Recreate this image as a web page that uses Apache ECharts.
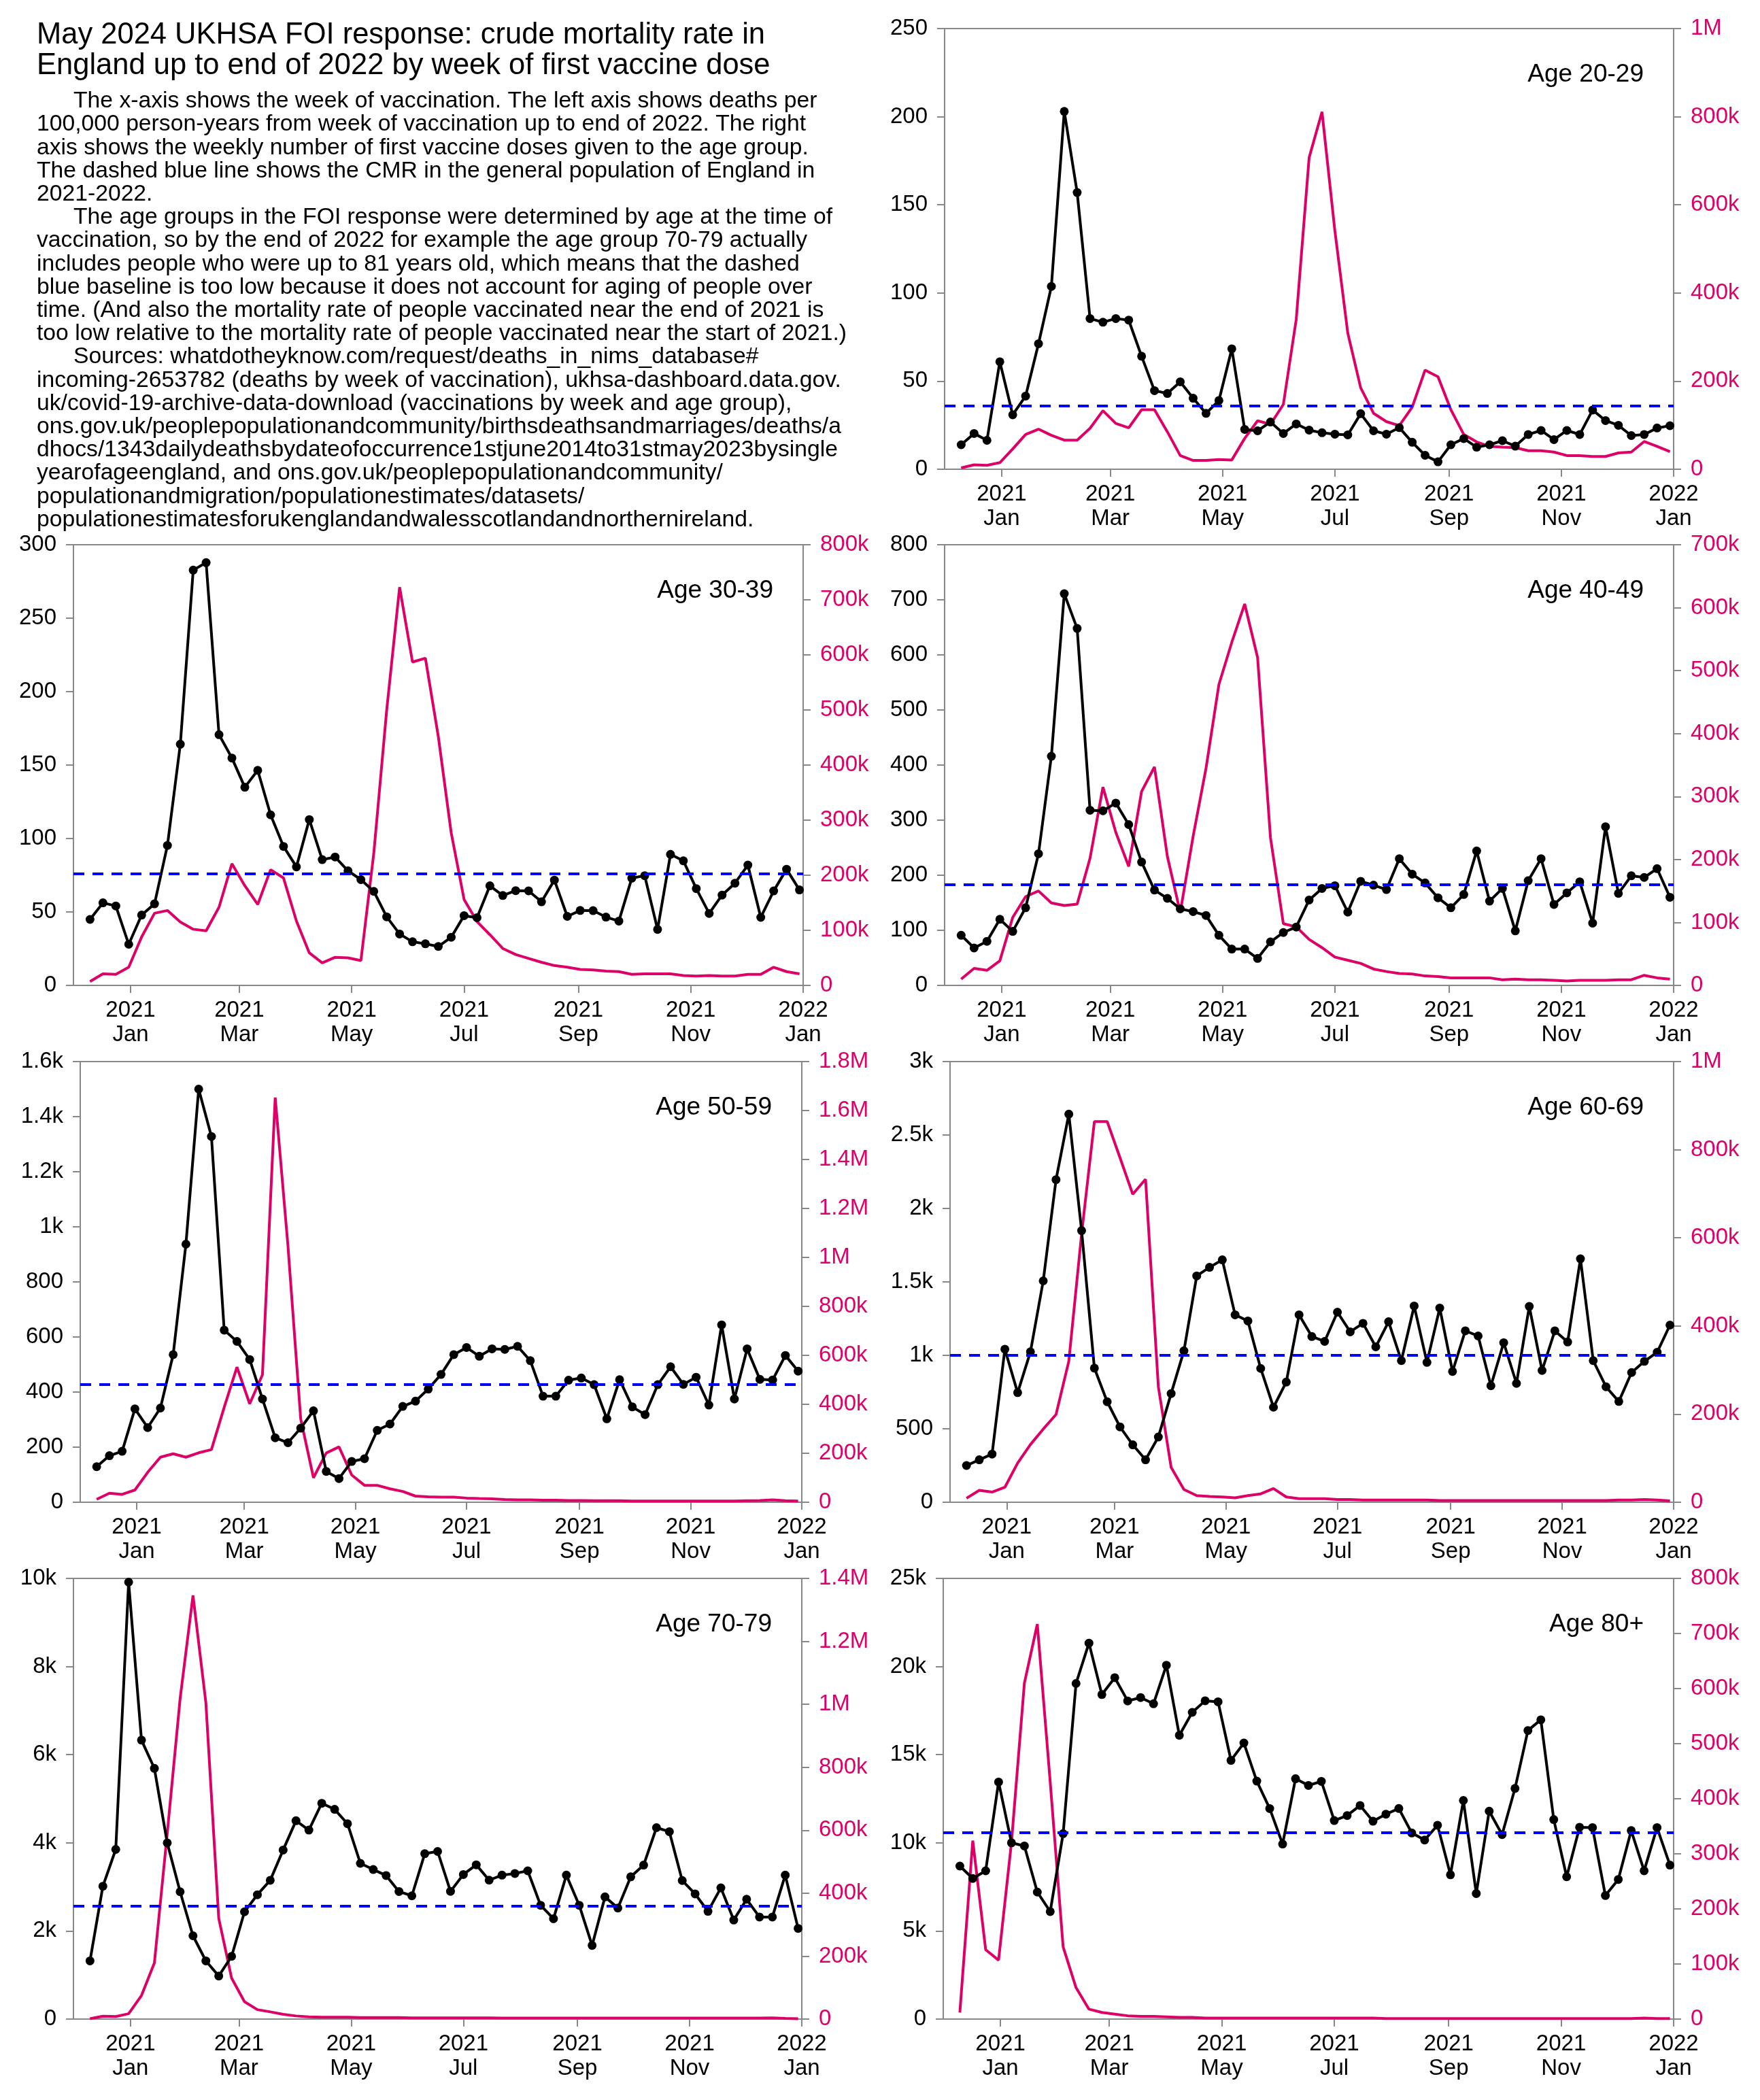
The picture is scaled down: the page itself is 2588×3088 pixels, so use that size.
<!DOCTYPE html>
<html><head><meta charset="utf-8">
<script src="https://cdn.jsdelivr.net/npm/echarts@6/dist/echarts.min.js"></script>
<style>html,body{margin:0;padding:0;background:#fff}#c{width:2588px;height:3088px}</style>
</head><body><div id="c"></div>
<script>
// ---------- DATA ----------
const weeks = ['2020-12-10','2020-12-17','2020-12-24','2020-12-31',
'2021-01-07','2021-01-14','2021-01-21','2021-01-28','2021-02-04','2021-02-11','2021-02-18','2021-02-25',
'2021-03-04','2021-03-11','2021-03-18','2021-03-25','2021-04-01','2021-04-08','2021-04-15','2021-04-22','2021-04-29',
'2021-05-06','2021-05-13','2021-05-20','2021-05-27','2021-06-03','2021-06-10','2021-06-17','2021-06-24',
'2021-07-01','2021-07-08','2021-07-15','2021-07-22','2021-07-29','2021-08-05','2021-08-12','2021-08-19','2021-08-26',
'2021-09-02','2021-09-09','2021-09-16','2021-09-23','2021-09-30','2021-10-07','2021-10-14','2021-10-21','2021-10-28',
'2021-11-04','2021-11-11','2021-11-18','2021-11-25','2021-12-02','2021-12-09','2021-12-16','2021-12-23','2021-12-30'];

const tickDates = ['2021-01-01','2021-03-01','2021-05-01','2021-07-01','2021-09-01','2021-11-01','2022-01-01'];
const monthNames = ['Jan','Feb','Mar','Apr','May','Jun','Jul','Aug','Sep','Oct','Nov','Dec'];
const xRange = ['2020-12-01','2022-01-01'];

const ageLabels = ['Age 20-29','Age 30-39','Age 40-49','Age 50-59','Age 60-69','Age 70-79','Age 80+'];

// deaths per 100,000 person-years by week of first dose
const cmr2029 = [13.9,20.3,16.4,61,30.9,41.5,71.2,103.7,203,157,85.5,83.4,85.5,84.6,64.1,44.6,43,49.6,40.3,31.7,39,68.3,22.6,21.8,26.8,20.3,25.7,22.2,20.7,19.9,19.5,31.5,21.8,19.9,23.6,15.3,7.9,4.2,13.9,17.4,12.5,13.9,16.2,13.1,19.7,22,16.8,22,19.7,33.6,27.6,24.9,19.1,19.7,23.4,24.7];
const cmr3039 = [44.9,56.2,54.1,28,47.9,55.5,95.3,164.2,282.7,287.8,170.7,154.8,134.9,146.4,116.1,94.6,80.7,112.9,85.6,87.4,78,72,64,46.7,35,29.7,28.3,26.5,32.8,47.5,46.1,67.8,61.2,64.5,64.4,56.9,71.7,47,51,50.9,46.5,43.8,73,74.7,38.1,89.2,84.8,65.9,49,61.5,69.6,81.9,46.3,64.3,79.1,65];
const cmr4049 = [91,68,80,120,98,141,239,416,711,648,318,317,331,292,224,173,158,139,134,127,91,66,66,49,79,96,106,155,176,181,133,189,182,174,230,202,186,159,141,165,244,153,176,99,190,230,147,168,188,113,288,167,199,196,212,160];
const cmr5059 = [129,169,185,339,271,342,536,937,1500,1328,625,584,518,375,234,216,269,332,112,86,148,158,261,284,348,367,411,464,536,562,530,557,555,566,514,385,385,443,451,427,303,445,346,318,427,492,428,454,353,644,375,557,446,444,533,476];
const cmr6069 = [250,289,328,1042,746,1024,1507,2196,2642,1849,913,684,513,391,289,444,740,1031,1541,1599,1650,1276,1234,911,647,818,1276,1128,1095,1294,1160,1218,1058,1229,964,1336,952,1322,890,1167,1132,793,1086,809,1333,897,1167,1091,1657,964,786,686,883,959,1021,1206];
const cmr7079 = [1320,3015,3850,9915,6330,5690,3998,2890,1890,1320,978,1424,2434,2822,3150,3836,4501,4289,4897,4760,4433,3534,3394,3258,2894,2797,3753,3804,2898,3281,3501,3152,3266,3304,3364,2582,2278,3266,2582,1671,2772,2521,3228,3494,4344,4253,3144,2840,2445,2977,2248,2719,2316,2316,3266,2058];
const cmr80 = [8680,7977,8410,13450,10000,9820,7205,6100,10520,19040,21330,18410,19370,18050,18240,17890,20075,16100,17400,18060,18000,14678,15660,13500,11945,9930,13637,13257,13485,11263,11548,12118,11225,11624,11947,10560,10161,10997,8186,12403,7122,11795,10465,13086,16372,16980,11320,8072,10883,10864,7008,7920,10693,8414,10864,8737];

// weekly first doses, in thousands
const dosesK2029 = [3,10,9,15,46,79,91,77,66,66,93,133,104,94,135,135,85,31,20,20,22,21,70,110,102,147,340,707,811,541,309,185,127,108,99,141,225,210,135,79,62,52,50,49,42,42,39,31,31,29,29,37,39,63,52,40];
const dosesK3039 = [7,21,20,33,88,131,136,115,102,99,142,221,181,147,210,195,117,59,41,51,50,45,240,500,723,587,594,452,277,156,116,92,67,56,49,42,36,33,29,28,26,25,20,21,21,21,18,17,18,17,17,20,20,33,25,21];
const dosesK4049 = [10,27,24,39,108,141,150,131,127,129,202,315,243,189,308,347,205,116,237,345,478,545,606,521,235,98,93,73,60,45,40,35,26,22,19,18,15,14,12,12,12,12,9,10,9,9,8,7,8,8,8,9,9,16,12,10];
const dosesK5059 = [12,37,32,50,122,184,198,184,202,215,388,552,402,521,1653,1047,340,100,201,226,111,69,69,55,44,25,22,21,21,17,15,14,11,10,10,8,8,7,7,6,6,6,5,5,5,5,5,5,5,5,5,6,7,10,6,5];
const dosesK6069 = [9,27,23,34,89,131,166,199,320,609,864,864,782,699,733,262,79,29,15,13,12,10,15,19,31,12,8,8,8,6,6,5,5,5,5,5,5,4,4,4,4,4,4,4,4,4,4,4,4,4,4,5,5,6,5,3];
const dosesK7079 = [1,9,8,17,75,178,590,1018,1346,1005,320,130,55,30,23,15,10,7,6,6,6,5,5,5,5,4,4,4,4,4,4,4,3,3,3,3,3,3,3,3,3,3,3,3,3,3,3,3,3,3,3,3,3,4,2,1];
const dosesK80 = [12,324,126,107,321,610,717,430,131,57,18,12,9,6,5,5,4,3,3,2,2,2,2,2,2,2,2,2,2,2,2,2,2,1,1,1,1,1,1,1,1,1,1,1,1,1,1,1,1,1,1,1,1,2,1,1];

// CMR of general population of England 2021-2022
const baselines = [36.1, 75.9, 183, 428, 1003, 2559, 10598];

// axis scales
const leftMax = [250, 300, 800, 1600, 3000, 10000, 25000];
const leftInterval = [50, 50, 100, 200, 500, 2000, 5000];
const rightMaxK = [1000, 800, 700, 1800, 1000, 1400, 800];
const rightIntervalK = [200, 100, 100, 200, 200, 200, 100];

const cmrSeries = [cmr2029, cmr3039, cmr4049, cmr5059, cmr6069, cmr7079, cmr80];
const doseSeries = [dosesK2029, dosesK3039, dosesK4049, dosesK5059, dosesK6069, dosesK7079, dosesK80];

// ---------- LAYOUT ----------
const gridRects = [
  {left:1389, top:42,   width:1072, height:648},
  {left:108,  top:801,  width:1073, height:648},
  {left:1389, top:801,  width:1072, height:648},
  {left:118,  top:1561, width:1061, height:648},
  {left:1397, top:1561, width:1064, height:648},
  {left:108,  top:2321, width:1071, height:648},
  {left:1387, top:2321, width:1074, height:648}
];

const FONT = '"Liberation Sans", Arial, Helvetica, sans-serif';
const PINK = '#dd0066';
const GRAY = '#888888';

function ts(s){ const p = s.split('-').map(Number); return new Date(p[0], p[1]-1, p[2]).getTime(); }
const tickTs = tickDates.map(ts);

function leftFmt(v){ return v >= 1000 ? (v/1000) + 'k' : String(v); }
function rightFmt(v){ if (v === 0) return '0'; return v >= 1000 ? (v/1000) + 'M' : v + 'k'; }
function xFmt(v){ const d = new Date(v); return d.getFullYear() + '\n' + monthNames[d.getMonth()]; }

const grids = [], xAxes = [], yAxes = [], series = [], graphics = [];

gridRects.forEach((g, i) => {
  grids.push(Object.assign({}, g, {show:true, borderColor:GRAY, borderWidth:2, backgroundColor:'transparent', containLabel:false, outerBoundsMode:'none'}));
  xAxes.push({
    type:'value', gridIndex:i, min:ts(xRange[0]), max:ts(xRange[1]),
    axisLine:{show:false, onZero:false},
    splitLine:{show:false},
    axisTick:{show:true, inside:false, length:11, customValues:tickTs, lineStyle:{color:GRAY, width:2}},
    axisLabel:{show:true, customValues:tickTs, formatter:xFmt, color:'#000', fontSize:33, fontFamily:FONT, lineHeight:36, margin:19, showMinLabel:true, showMaxLabel:true, hideOverlap:false}
  });
  yAxes.push({
    type:'value', gridIndex:i, position:'left', min:0, max:leftMax[i], interval:leftInterval[i],
    axisLine:{show:false}, splitLine:{show:false},
    axisTick:{show:true, inside:false, length:11, lineStyle:{color:GRAY, width:2}},
    axisLabel:{formatter:leftFmt, color:'#000', fontSize:33, fontFamily:FONT, margin:25, showMinLabel:true, showMaxLabel:true}
  });
  yAxes.push({
    type:'value', gridIndex:i, position:'right', min:0, max:rightMaxK[i], interval:rightIntervalK[i],
    axisLine:{show:false}, splitLine:{show:false}, alignTicks:false,
    axisTick:{show:true, inside:false, length:11, lineStyle:{color:GRAY, width:2}},
    axisLabel:{formatter:rightFmt, color:PINK, fontSize:33, fontFamily:FONT, margin:25, showMinLabel:true, showMaxLabel:true}
  });
  series.push({
    type:'line', name:'doses '+ageLabels[i], xAxisIndex:i, yAxisIndex:2*i+1,
    data: weeks.map((w,k) => [ts(w), doseSeries[i][k]]),
    showSymbol:false, symbol:'none', lineStyle:{color:PINK, width:4}, itemStyle:{color:PINK},
    z:2, silent:true
  });
  series.push({
    type:'line', name:'CMR '+ageLabels[i], xAxisIndex:i, yAxisIndex:2*i,
    data: weeks.map((w,k) => [ts(w), cmrSeries[i][k]]),
    symbol:'circle', symbolSize:13, showSymbol:true,
    lineStyle:{color:'#000', width:4}, itemStyle:{color:'#000'},
    z:3, silent:true,
    markLine:{silent:true, symbol:['none','none'], label:{show:false}, animation:false,
      lineStyle:{color:'#0000ff', width:4, type:[16,12]},
      data:[{yAxis: baselines[i]}]}
  });
  graphics.push({type:'text', x:g.left + g.width - 44, y:g.top + 68, silent:true,
    style:{text:ageLabels[i], fontSize:37, fontFamily:FONT, fill:'#000', textAlign:'right', textVerticalAlign:'middle', align:'right', verticalAlign:'middle'}});
});

// ---------- TEXT BLOCK ----------
const titleLines = ['May 2024 UKHSA FOI response: crude mortality rate in',
  'England up to end of 2022 by week of first vaccine dose'];
const bodyLines = [
  [1,'The x-axis shows the week of vaccination. The left axis shows deaths per'],
  [0,'100,000 person-years from week of vaccination up to end of 2022. The right'],
  [0,'axis shows the weekly number of first vaccine doses given to the age group.'],
  [0,'The dashed blue line shows the CMR in the general population of England in'],
  [0,'2021-2022.'],
  [1,'The age groups in the FOI response were determined by age at the time of'],
  [0,'vaccination, so by the end of 2022 for example the age group 70-79 actually'],
  [0,'includes people who were up to 81 years old, which means that the dashed'],
  [0,'blue baseline is too low because it does not account for aging of people over'],
  [0,'time. (And also the mortality rate of people vaccinated near the end of 2021 is'],
  [0,'too low relative to the mortality rate of people vaccinated near the start of 2021.)'],
  [1,'Sources: whatdotheyknow.com/request/deaths_in_nims_database#'],
  [0,'incoming-2653782 (deaths by week of vaccination), ukhsa-dashboard.data.gov.'],
  [0,'uk/covid-19-archive-data-download (vaccinations by week and age group),'],
  [0,'ons.gov.uk/peoplepopulationandcommunity/birthsdeathsandmarriages/deaths/a'],
  [0,'dhocs/1343dailydeathsbydateofoccurrence1stjune2014to31stmay2023bysingle'],
  [0,'yearofageengland, and ons.gov.uk/peoplepopulationandcommunity/'],
  [0,'populationandmigration/populationestimates/datasets/'],
  [0,'populationestimatesforukenglandandwalesscotlandandnorthernireland.']
];
titleLines.forEach((t, j) => {
  graphics.push({type:'text', x:54, y:52 + j*45, silent:true,
    style:{text:t, fontSize:43.5, fontFamily:FONT, fill:'#000', textAlign:'left', textVerticalAlign:'middle', align:'left', verticalAlign:'middle'}});
});
bodyLines.forEach((l, j) => {
  graphics.push({type:'text', x: l[0] ? 108 : 54, y:149 + j*34.2, silent:true,
    style:{text:l[1], fontSize:33.7, fontFamily:FONT, fill:'#000', textAlign:'left', textVerticalAlign:'middle', align:'left', verticalAlign:'middle'}});
});

const chart = echarts.init(document.getElementById('c'), null, {renderer:'canvas', width:2588, height:3088});
chart.setOption({
  animation:false,
  backgroundColor:'#fff',
  textStyle:{fontFamily:FONT},
  grid:grids, xAxis:xAxes, yAxis:yAxes, series:series, graphic:graphics
});
</script></body></html>
